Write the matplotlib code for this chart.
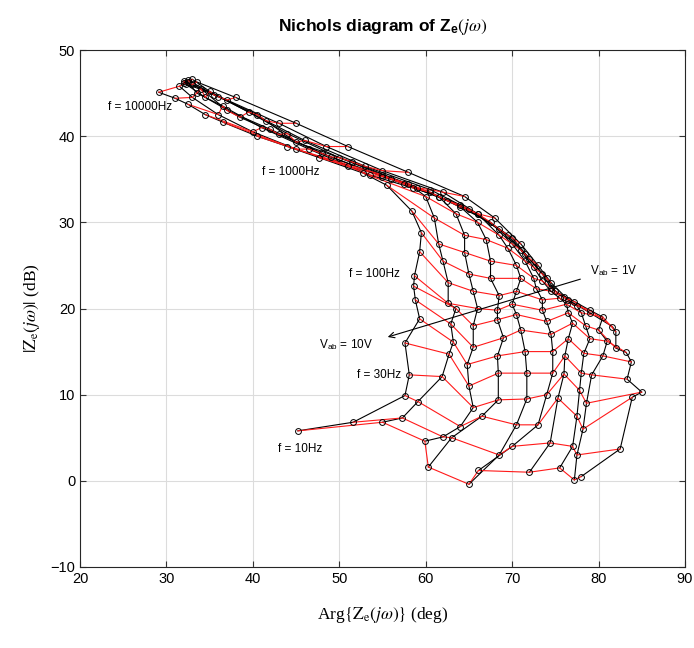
import numpy as np
import matplotlib.pyplot as plt

plt.rcParams['mathtext.fontset'] = 'stix'
plt.rcParams['font.family'] = ['Liberation Sans', 'DejaVu Sans']

freqs = [10, 15, 20, 30, 40, 50, 60, 80, 100, 150, 200, 300, 500, 700,
         1000, 1500, 2000, 3000, 4000, 5000, 7000, 10000]
volts = [1, 2, 3, 4, 5, 6, 7, 8, 9, 10]

# phase (deg) per voltage, one entry per frequency
phase = [
    [78.0, 82.5, 83.9, 85.0, 83.3, 83.8, 83.2, 82.0, 82.0, 81.6, 79.0, 76.5, 74.5, 73.0, 71.0, 68.0, 64.5, 58.0, 51.0, 45.0, 38.0, 33.5],
    [77.2, 77.5, 78.2, 78.6, 79.2, 80.5, 81.0, 80.0, 80.5, 79.0, 77.2, 75.0, 74.0, 72.0, 70.0, 66.0, 62.0, 55.0, 48.5, 43.0, 37.0, 33.0],
    [75.5, 77.0, 77.5, 77.8, 78.0, 78.3, 79.0, 78.5, 78.0, 77.5, 76.0, 74.5, 73.5, 71.5, 69.5, 65.0, 60.5, 53.0, 46.0, 41.5, 36.0, 32.0],
    [72.0, 74.4, 75.3, 76.0, 76.1, 76.5, 77.0, 76.5, 76.3, 75.5, 74.5, 73.5, 72.5, 71.0, 68.5, 64.0, 59.0, 51.5, 45.0, 40.5, 35.5, 32.5],
    [66.1, 70.0, 73.0, 74.0, 74.7, 74.7, 74.5, 74.0, 73.5, 73.5, 72.8, 72.5, 71.5, 70.0, 67.5, 62.5, 57.5, 50.0, 44.0, 39.5, 35.0, 33.0],
    [65.0, 68.5, 70.5, 71.7, 71.7, 71.5, 71.0, 70.5, 70.0, 70.5, 71.0, 70.5, 69.5, 68.5, 66.0, 61.5, 56.0, 49.0, 43.0, 38.5, 34.5, 32.3],
    [60.3, 63.0, 66.5, 68.4, 68.4, 68.3, 69.0, 68.3, 68.3, 68.5, 67.5, 67.5, 67.0, 66.0, 64.0, 60.5, 55.0, 48.0, 42.0, 37.0, 34.0, 32.0],
    [59.9, 62.0, 64.0, 65.5, 65.0, 64.8, 65.5, 65.5, 66.0, 65.5, 65.0, 64.5, 64.5, 63.5, 61.5, 58.5, 53.5, 46.5, 41.0, 36.5, 33.5, 32.5],
    [55.0, 57.3, 59.1, 61.9, 62.7, 63.2, 62.9, 63.5, 62.6, 62.6, 62.0, 61.5, 61.0, 60.0, 58.0, 55.0, 51.0, 45.0, 40.0, 36.0, 33.0, 31.5],
    [45.2, 51.6, 57.6, 58.1, 57.6, 59.3, 58.8, 58.6, 58.7, 59.3, 59.5, 58.4, 55.5, 52.8, 47.7, 44.0, 40.5, 36.6, 34.5, 32.5, 31.0, 29.1],
]

# magnitude (dB) per voltage, one entry per frequency
mag = [
    [0.5, 3.7, 9.7, 10.3, 11.8, 13.8, 14.9, 15.4, 17.3, 17.9, 19.5, 21.0, 23.0, 25.0, 27.5, 30.5, 33.0, 35.8, 38.8, 41.5, 44.5, 46.3],
    [0.1, 3.0, 6.0, 9.0, 12.3, 14.5, 16.2, 17.5, 19.0, 19.8, 20.8, 22.0, 23.5, 25.8, 28.2, 31.0, 33.5, 36.0, 38.8, 41.5, 44.2, 46.0],
    [1.5, 4.0, 7.5, 10.5, 12.5, 14.8, 16.5, 18.0, 19.5, 20.3, 21.3, 22.4, 24.0, 26.3, 28.5, 31.5, 33.8, 36.5, 39.5, 41.8, 44.6, 46.2],
    [1.0, 4.4, 9.6, 12.4, 14.5, 16.5, 18.3, 19.5, 20.5, 21.2, 22.0, 23.2, 24.8, 26.8, 29.2, 32.0, 34.0, 37.0, 39.3, 42.5, 44.8, 46.5],
    [1.2, 4.0, 6.5, 10.0, 12.5, 15.0, 17.0, 18.5, 19.8, 21.0, 22.3, 23.5, 25.5, 27.5, 30.0, 32.5, 34.5, 37.5, 40.3, 42.8, 45.2, 46.6],
    [-0.4, 3.0, 6.5, 9.5, 12.5, 15.0, 17.5, 19.3, 20.5, 22.0, 23.5, 25.0, 27.0, 28.5, 31.0, 33.0, 35.0, 37.6, 40.2, 42.2, 44.5, 46.0],
    [1.6, 5.0, 7.5, 9.4, 12.5, 14.5, 16.6, 18.7, 19.8, 21.5, 23.5, 25.5, 28.0, 30.0, 31.8, 33.5, 35.3, 38.0, 40.8, 43.0, 45.5, 46.4],
    [4.6, 5.1, 6.3, 8.5, 11.0, 13.5, 15.5, 18.0, 20.0, 22.0, 24.0, 26.5, 28.5, 31.0, 33.0, 34.0, 35.5, 38.5, 41.0, 43.5, 45.0, 46.3],
    [6.8, 7.3, 9.2, 12.1, 14.7, 16.1, 18.2, 20.0, 20.6, 23.0, 25.5, 27.5, 30.5, 33.0, 34.5, 35.5, 36.5, 38.5, 40.5, 42.5, 44.5, 45.8],
    [5.8, 6.8, 9.9, 12.3, 16.0, 18.8, 21.0, 22.6, 23.8, 26.6, 28.8, 31.3, 34.3, 35.7, 37.5, 38.8, 40.0, 41.6, 42.5, 43.7, 44.4, 45.1],
]

P = np.array(phase)
M = np.array(mag)

fig = plt.figure(figsize=(6.94, 6.48), dpi=100)
ax = fig.add_axes([0.1153, 0.125, 0.8717, 0.7978])

for i in range(len(volts)):
    ax.plot(P[i], M[i], color='black', lw=0.8, zorder=2)
for j in range(len(freqs)):
    ax.plot(P[:, j], M[:, j], color='#ff1a1a', lw=0.8, zorder=3)
ax.plot(P.ravel(), M.ravel(), 'o', mfc='none', mec='black', ms=4.2, mew=0.7, zorder=4)

fs = 8.5
ax.text(26.9, 43.4, 'f = 10000Hz', fontsize=fs, ha='center', va='center')
ax.text(44.4, 35.8, 'f = 1000Hz', fontsize=fs, ha='center', va='center')
ax.text(54.1, 24.0, 'f = 100Hz', fontsize=fs, ha='center', va='center')
ax.text(54.6, 12.3, 'f = 30Hz', fontsize=fs, ha='center', va='center')
ax.text(45.5, 3.7, 'f = 10Hz', fontsize=fs, ha='center', va='center')
ax.text(50.8, 15.8, r'V$_{\mathregular{ab}}$ = 10V', fontsize=fs, ha='center', va='center')
ax.text(81.7, 24.4, r'V$_{\mathregular{ab}}$ = 1V', fontsize=fs, ha='center', va='center')
ax.annotate('', xy=(55.3, 16.6), xytext=(78.2, 23.5),
            arrowprops=dict(arrowstyle='->', lw=0.8, color='black'))

ax.set_xlim(20, 90)
ax.set_ylim(-10, 50)
ax.set_xticks(np.arange(20, 91, 10))
ax.set_yticks(np.arange(-10, 51, 10))
ax.set_yticklabels(['\u221210'] + [str(v) for v in range(0, 51, 10)])
ax.grid(True, color='#dcdcdc', lw=0.8)
ax.set_axisbelow(True)
ax.tick_params(direction='in', top=True, right=True, labelsize=10.5, length=4, color='#333333')
for s in ax.spines.values():
    s.set_linewidth(0.8)
    s.set_color('#262626')

ax.set_title(r'Nichols diagram of Z$_{\mathregular{e}}$$(j\omega)$', fontsize=12.5,
             fontweight='bold', pad=14)
ax.set_xlabel(r'Arg$\{\mathrm{Z_e}(j\omega)\}$ (deg)', fontsize=12.5,
              family='Liberation Serif', labelpad=14)
ax.set_ylabel(r'$|\mathrm{Z_e}(j\omega)|$ (dB)', fontsize=12.5,
              family='Liberation Serif', labelpad=6)

fig.savefig('out.png', dpi=100)
